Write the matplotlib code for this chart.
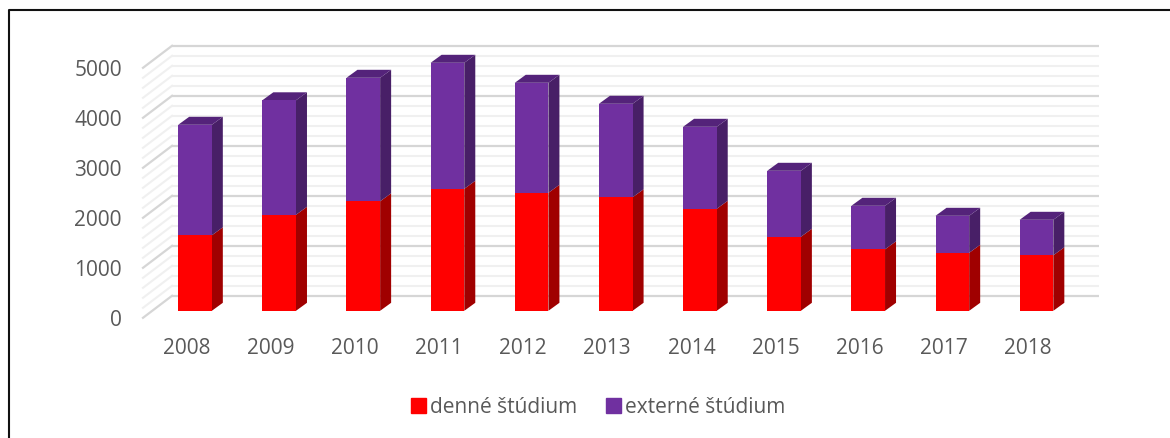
import numpy as np
import matplotlib
matplotlib.use('Agg')
import matplotlib.pyplot as plt
from matplotlib.lines import Line2D
from matplotlib.patches import Patch

years = ['2008', '2009', '2010', '2011', '2012', '2013', '2014', '2015', '2016', '2017', '2018']
denne = [1510, 1920, 2190, 2440, 2360, 2270, 2040, 1480, 1230, 1160, 1110]
externe = [2210, 2290, 2470, 2520, 2200, 1870, 1640, 1320, 870, 740, 710]
y_labels = [0, 1000, 2000, 3000, 4000, 5000]

plt.rcParams['font.family'] = ['Open Sans', 'DejaVu Sans']
W, H = 1170, 439
fig = plt.figure(figsize=(W / 100, H / 100), dpi=100)
# axes box in pixels: 140..1110 across, 30.8..330.8 down
ax = fig.add_axes([140 / W, 1 - 330.8 / H, 970 / W, 300 / H])

px_x = 84.15        # pixels per category
px_y = 0.05         # pixels per unit
ax.set_xlim(-55 / px_x, 915 / px_x)
ax.set_ylim(-19 / px_y, 281 / px_y)
for s in ax.spines.values():
    s.set_visible(False)

# fake 3d offsets
bar_w = 0.4
dx = 11 / px_x
dy = 8 / px_y
back_y = 15 / px_y
left_x, wall_x, right_x = -52 / px_x, -23 / px_x, 904 / px_x
front_y = -7 / px_y

# back wall and side wall lines
for v in np.arange(0, 5001, 200):
    major = v % 1000 == 0
    col = '#d6d6d6' if major else '#f0f0f0'
    lw = 1.6 if major else 1.5
    ax.plot([wall_x, right_x], [v + back_y, v + back_y], color=col, lw=lw, zorder=1, solid_capstyle='butt')
    ax.plot([left_x, wall_x], [v + front_y, v + back_y], color=col, lw=lw, zorder=1)

x = np.arange(len(years))
denne = np.array(denne)
externe = np.array(externe)
total = denne + externe

b1 = ax.bar(x, denne, bar_w, color='#ff0000', zorder=3)
b2 = ax.bar(x, externe, bar_w, bottom=denne, color='#7030a0', zorder=3)

for i in x:
    r = i + bar_w / 2
    l = i - bar_w / 2
    ax.fill([r, r + dx, r + dx, r], [0, dy, denne[i] + dy, denne[i]], color='#a00000', lw=0, zorder=2.5)
    ax.fill([r, r + dx, r + dx, r], [denne[i], denne[i] + dy, total[i] + dy, total[i]], color='#481f67', lw=0, zorder=2.5)
    ax.fill([l, l + dx, r + dx, r], [total[i], total[i] + dy, total[i] + dy, total[i]], color='#54237a', lw=0, zorder=2.5)

# year labels sit a bit left of the bars, like in the 3d original
ax.set_xticks(x - 8.5 / px_x, years)
ax.set_yticks(np.array(y_labels) - 115, [str(v) for v in y_labels])
ax.tick_params(length=0, labelcolor='#595959', labelsize=15)
ax.tick_params(axis='y', pad=13)
ax.tick_params(axis='x', pad=5.5)

handles = [Patch(color='#ff0000', label='denné štúdium'), Patch(color='#7030a0', label='externé štúdium')]
fig.legend(handles=handles, loc='center', bbox_to_anchor=(598 / W, 1 - 408 / H), ncol=2, frameon=False,
           fontsize=15, labelcolor='#595959', handlelength=0.7, handleheight=0.7,
           handletextpad=0.2, columnspacing=1.4)

# frame of the picture, open at right and bottom
fig.add_artist(Line2D([8.5 / W, 8.5 / W, 1], [0, 1 - 10.5 / H, 1 - 10.5 / H], color='#111111', lw=1.5))

fig.savefig('out.png', dpi=100)
